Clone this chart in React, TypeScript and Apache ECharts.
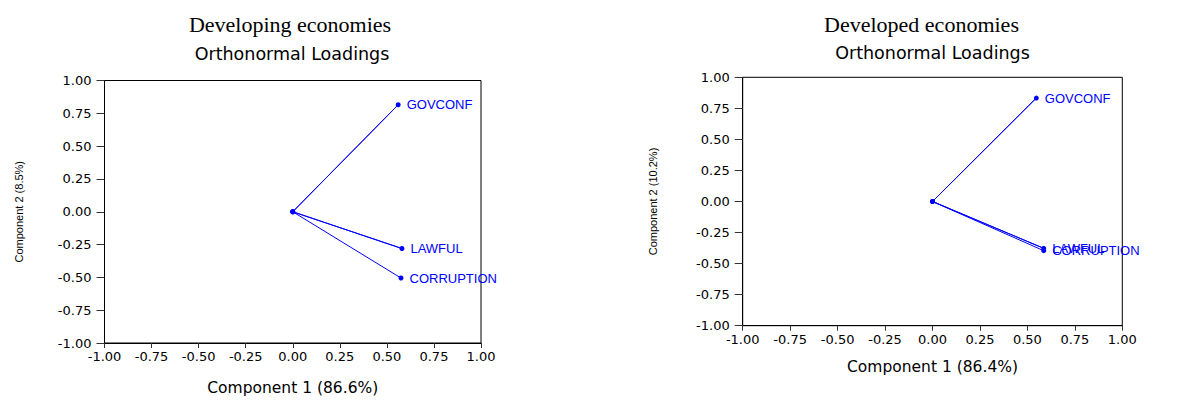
import React, { useEffect, useRef } from "react";
import * as echarts from "echarts";

const variables = ["GOVCONF", "LAWFUL", "CORRUPTION"];
const developingComp1 = [0.56, 0.58, 0.575];
const developingComp2 = [0.815, -0.28, -0.505];
const developedComp1 = [0.547, 0.586, 0.586];
const developedComp2 = [0.833, -0.377, -0.396];
const axisMin = -1;
const axisMax = 1;
const axisInterval = 0.25;

const panelTitles = ["Developing economies", "Developed economies"];
const subTitle = "Orthonormal Loadings";
const xNames = ["Component 1 (86.6%)", "Component 1 (86.4%)"];
const yNames = ["Component 2 (8.5%)", "Component 2 (10.2%)"];

const BLUE = "#0000ff";
const SANS = "'DejaVu Sans', 'Liberation Sans', sans-serif";

function buildData(c1: number[], c2: number[]) {
  const out: any[] = [];
  variables.forEach((name, i) => {
    out.push({ value: [0, 0], label: { show: false } });
    out.push({ value: [c1[i], c2[i]], name, label: { show: true, formatter: name } });
  });
  return out;
}

export default function App() {
  const ref = useRef<HTMLDivElement>(null);
  useEffect(() => {
    if (!ref.current) return;
    const chart = echarts.init(ref.current, undefined, { renderer: "svg" });
    const grids = [
      { left: 104.5, top: 80.5, width: 376.5, height: 268.5 },
      { left: 742.7, top: 77.3, width: 379.6, height: 248.4 },
    ];
    const xGaps = [37, 33];
    const yGaps = [80, 84];
    const axisCommon = {
      type: "value",
      min: axisMin,
      max: axisMax,
      interval: axisInterval,
      splitLine: { show: false },
      axisLine: { show: true, onZero: false, lineStyle: { color: "#000", width: 1 } },
      axisTick: { show: true, inside: false, lineStyle: { color: "#333" } },
      axisLabel: {
        color: "#000",
        fontFamily: SANS,
        fontSize: 13,
        formatter: (v: number) => v.toFixed(2),
      },
    };
    const option: any = {
      animation: false,
      backgroundColor: "#fff",
      grid: grids.map((g) => ({
        ...g,
        show: true,
        borderColor: "#000",
        borderWidth: 1,
        backgroundColor: "transparent",
        containLabel: false,
      })),
      xAxis: [0, 1].map((i) => ({
        ...axisCommon,
        gridIndex: i,
        position: "bottom",
        axisTick: { ...axisCommon.axisTick, length: 5 },
        axisLabel: { ...axisCommon.axisLabel, margin: 7 },
        name: xNames[i],
        nameLocation: "middle",
        nameGap: xGaps[i],
        nameTextStyle: { color: "#000", fontFamily: SANS, fontSize: 15.5 },
      })),
      yAxis: [0, 1].map((i) => ({
        ...axisCommon,
        gridIndex: i,
        position: "left",
        axisTick: { ...axisCommon.axisTick, length: 8 },
        axisLabel: { ...axisCommon.axisLabel, margin: 13 },
        name: yNames[i],
        nameLocation: "middle",
        nameGap: yGaps[i],
        nameTextStyle: { color: "#000", fontFamily: "'Liberation Sans', sans-serif", fontSize: 11 },
      })),
      series: [
        [developingComp1, developingComp2],
        [developedComp1, developedComp2],
      ].map(([c1, c2], i) => ({
        type: "line",
        xAxisIndex: i,
        yAxisIndex: i,
        data: buildData(c1, c2),
        symbol: "circle",
        symbolSize: 5,
        showAllSymbol: true,
        lineStyle: { color: BLUE, width: 1 },
        itemStyle: { color: BLUE },
        label: {
          position: "right",
          distance: 6,
          color: BLUE,
          fontFamily: "'Liberation Sans', sans-serif",
          fontSize: 13,
        },
        emphasis: { disabled: true },
        silent: true,
      })),
      graphic: [
        {
          type: "text",
          x: 290,
          y: 24,
          style: {
            text: panelTitles[0],
            font: "22px 'Liberation Serif', 'Times New Roman', serif",
            fill: "#000",
            textAlign: "center",
            textVerticalAlign: "middle",
          },
        },
        {
          type: "text",
          x: 921.5,
          y: 24,
          style: {
            text: panelTitles[1],
            font: "22px 'Liberation Serif', 'Times New Roman', serif",
            fill: "#000",
            textAlign: "center",
            textVerticalAlign: "middle",
          },
        },
        {
          type: "text",
          x: 292,
          y: 53.5,
          style: {
            text: subTitle,
            font: "17.5px 'DejaVu Sans', sans-serif",
            fill: "#000",
            textAlign: "center",
            textVerticalAlign: "middle",
          },
        },
        {
          type: "text",
          x: 932.5,
          y: 52.5,
          style: {
            text: subTitle,
            font: "17.5px 'DejaVu Sans', sans-serif",
            fill: "#000",
            textAlign: "center",
            textVerticalAlign: "middle",
          },
        },
      ],
    };
    chart.setOption(option);
    return () => chart.dispose();
  }, []);
  return (
    <div
      ref={ref}
      style={{ position: "absolute", left: 0, top: 0, width: 1183, height: 401 }}
    />
  );
}
